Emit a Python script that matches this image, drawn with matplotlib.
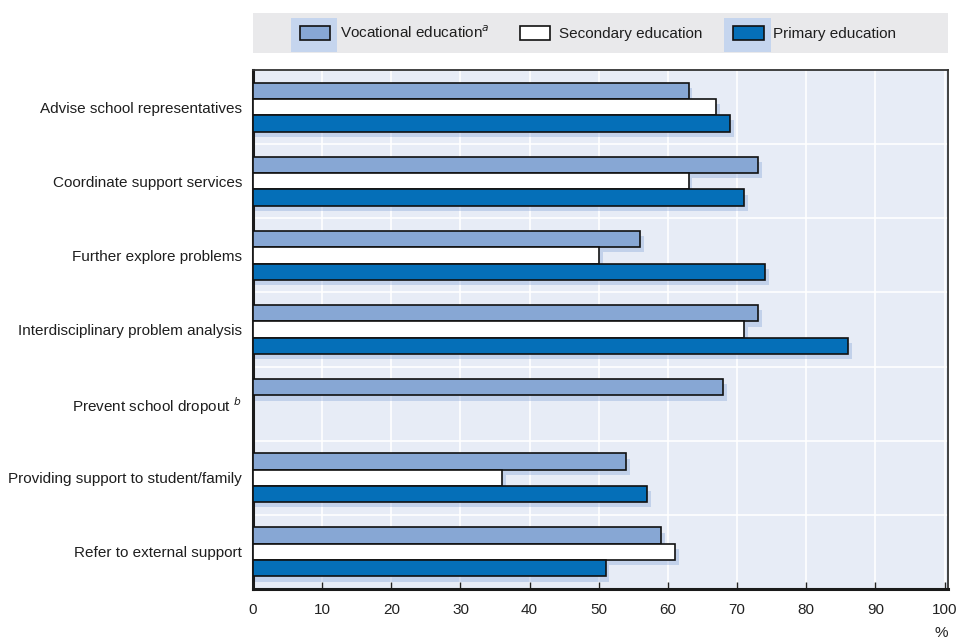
import matplotlib
matplotlib.use("Agg")
import matplotlib.pyplot as plt
from matplotlib.patches import Rectangle, Patch
import numpy as np

plt.rcParams['font.family'] = ['Liberation Sans', 'DejaVu Sans']

categories = [
    "Advise school representatives",
    "Coordinate support services",
    "Further explore problems",
    "Interdisciplinary problem analysis",
    "Prevent school dropout $^{b}$",
    "Providing support to student/family",
    "Refer to external support",
]
vocational = [63, 73, 56, 73, 68, 54, 59]
secondary = [67, 63, 50, 71, np.nan, 36, 61]
primary = [69, 71, 74, 86, np.nan, 57, 51]
series_names = ["Vocational education$^{a}$", "Secondary education", "Primary education"]
colors = ["#87a7d4", "#ffffff", "#056fb8"]
xticks = list(range(0, 101, 10))

fig = plt.figure(figsize=(9.63, 6.39), dpi=100)
ax = fig.add_axes([253/963, 1-589/639, (948-253)/963, (589-70)/639])
ax.set_facecolor("#e7ecf6")

y = np.arange(len(categories))
h = 0.22
shadow = "#7f9fd6"
for off, vals, col in zip([-h, 0, h], [vocational, secondary, primary], colors):
    v = np.array(vals, dtype=float)
    m = ~np.isnan(v)
    ax.barh(y[m] + off + 0.07, v[m] + 0.35, height=h, left=0.2, color=shadow,
            alpha=0.35, edgecolor="none", zorder=2)
for off, vals, col in zip([-h, 0, h], [vocational, secondary, primary], colors):
    v = np.array(vals, dtype=float)
    m = ~np.isnan(v)
    ax.barh(y[m] + off, v[m], height=h, color=col, edgecolor="#111111",
            linewidth=1.2, zorder=3)

ax.set_xlim(0, 100.5)
ax.set_ylim(len(categories) - 0.5, -0.5)
ax.set_yticks(y)
ax.set_yticklabels(categories, fontsize=11, color="#1e1e1e")
ax.set_xticks(xticks)
ax.set_xticklabels([str(t) for t in xticks], fontsize=11)
ax.set_yticks(np.arange(0.5, len(categories) - 0.5, 1), minor=True)
ax.tick_params(axis="y", which="both", length=0, pad=8)
ax.tick_params(axis="x", direction="in", length=5, width=1, pad=10, colors="#222222")
ax.grid(axis="x", color="white", linewidth=1.2, zorder=1)
ax.grid(axis="y", which="minor", color="white", linewidth=1.2, zorder=1)
ax.set_axisbelow(True)
for s in ["left", "bottom"]:
    ax.spines[s].set_linewidth(2.2)
    ax.spines[s].set_color("#1a1a1a")
for s in ["top", "right"]:
    ax.spines[s].set_linewidth(1.3)
    ax.spines[s].set_color("#333333")

ax.text(1.0, -0.085, "%", transform=ax.transAxes, ha="right", va="center", fontsize=11, color="#222222")

# legend band
fig.patches.append(Rectangle((253/963, 1-53/639), (948-253)/963, 40/639,
                             transform=fig.transFigure, facecolor="#e9e9eb",
                             edgecolor="none", zorder=0))
handles = [Patch(facecolor=c, edgecolor="#111111", linewidth=1.2) for c in colors]
leg = fig.legend(handles, series_names, loc="center", bbox_to_anchor=(598/963, 1-33/639),
                 ncol=3, frameon=False, fontsize=11, handlelength=2.0, handleheight=1.0,
                 columnspacing=2.0, handletextpad=0.6)
for t in leg.get_texts():
    t.set_color("#1e1e1e")
fig.canvas.draw()
inv = fig.transFigure.inverted()
for i in [0, 2]:
    bb = leg.legend_handles[i].get_window_extent()
    (x0, y0), (x1, y1) = inv.transform([(bb.x0 - 9, 639 - 52), (bb.x1 + 7, 639 - 18)])
    fig.patches.append(Rectangle((x0, y0), x1 - x0, y1 - y0, transform=fig.transFigure,
                                 facecolor="#c5d5ee", edgecolor="none", zorder=0.5))

fig.savefig("out.png", dpi=100)
